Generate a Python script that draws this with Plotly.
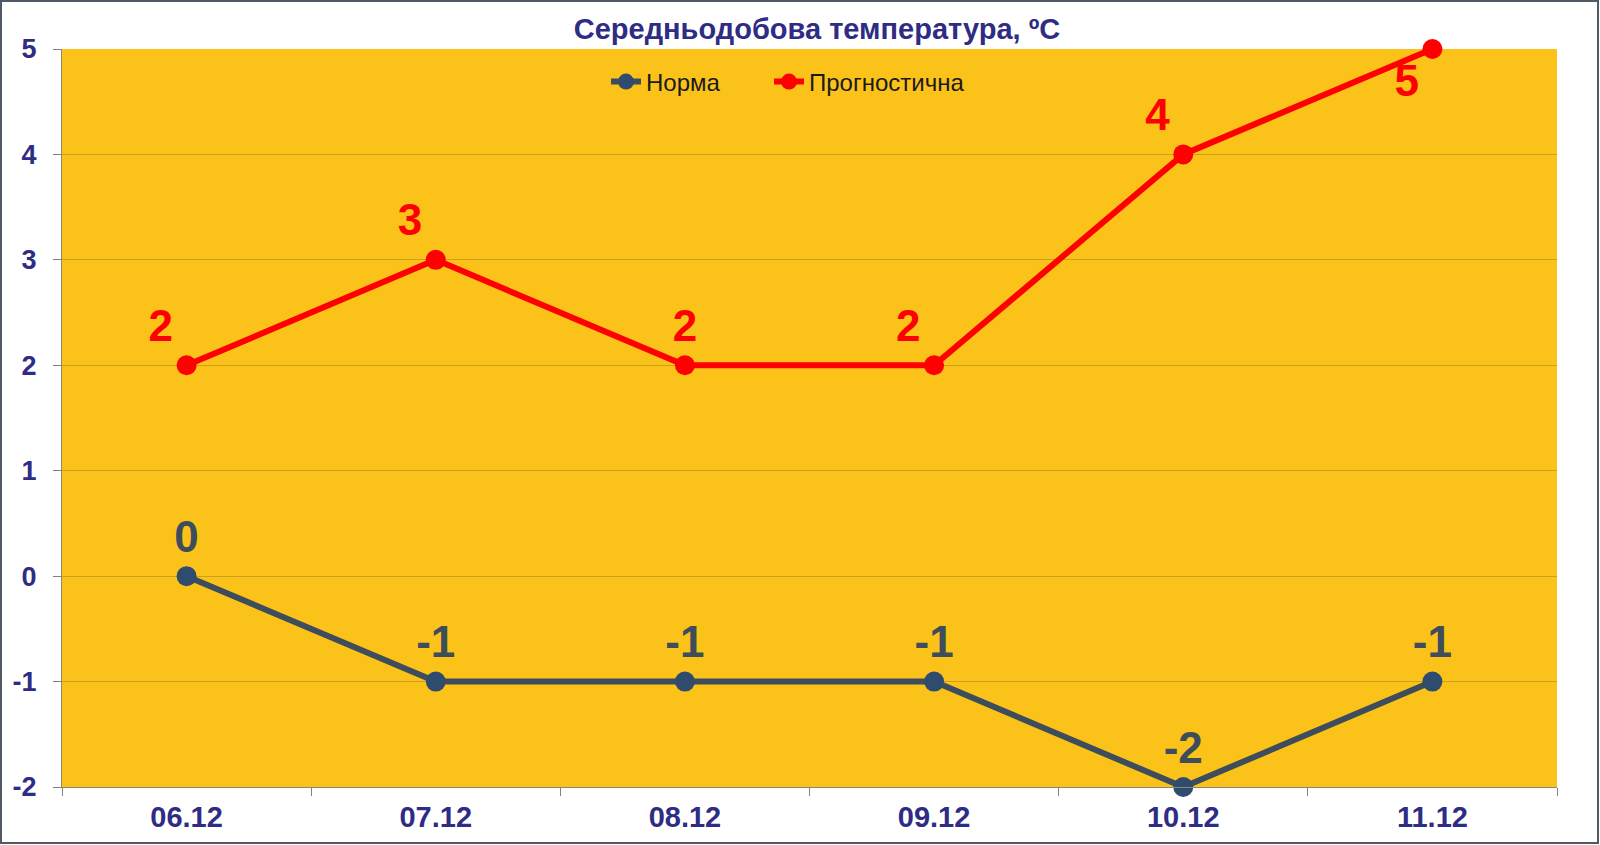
import plotly.graph_objects as go

categories = ["06.12", "07.12", "08.12", "09.12", "10.12", "11.12"]
norma = [0, -1, -1, -1, -2, -1]
prognoz = [2, 3, 2, 2, 4, 5]
y_ticks = [-2, -1, 0, 1, 2, 3, 4, 5]
y_ticktext = [str(v) for v in y_ticks]

prog_pos = ["top left", "top left", "top center", "top left", "top left", "bottom left"]
norm_pos = ["top center"] * 6

FONT = "Arial, Liberation Sans, sans-serif"
TICKC = "#2E2C84"
RED = "#FF0000"
GRAY_LINE = "#3E4D5B"
GRAY_MARK = "#2F4C6E"

fig = go.Figure()
fig.add_trace(go.Scatter(
    x=categories, y=norma, name="Норма", mode="lines+markers+text",
    text=[str(v) for v in norma], textposition=norm_pos,
    textfont=dict(family=FONT, size=44, color=GRAY_LINE, weight="bold"),
    line=dict(color=GRAY_LINE, width=6),
    marker=dict(color=GRAY_MARK, size=20),
    cliponaxis=False, legend="legend",
))
fig.add_trace(go.Scatter(
    x=categories, y=prognoz, name="Прогностична", mode="lines+markers+text",
    text=[str(v) for v in prognoz], textposition=prog_pos,
    textfont=dict(family=FONT, size=44, color=RED, weight="bold"),
    line=dict(color=RED, width=6),
    marker=dict(color=RED, size=20),
    cliponaxis=False, legend="legend2",
))

L, R, T, B = 62, 43, 49, 58
W, H = 1600, 845
pw, ph = W - L - R, H - T - B

leg_common = dict(orientation="h", xanchor="left", yanchor="middle",
                  y=(H - B - 82) / ph, bgcolor="rgba(0,0,0,0)",
                  font=dict(family=FONT, size=24, color="#1A1A1A"))

fig.update_layout(
    width=W, height=H,
    margin=dict(l=L, r=R, t=T, b=B, autoexpand=False),
    paper_bgcolor="white",
    plot_bgcolor="#FBC21A",
    title=dict(text="<b>Середньодобова температура, ºC</b>", x=817 / W, xanchor="center",
               y=1 - 28.6 / H, yanchor="middle",
               font=dict(family=FONT, size=29, color=TICKC)),
    legend=dict(x=(606 - L) / pw, **leg_common),
    legend2=dict(x=(769 - L) / pw, **leg_common),
    shapes=[dict(type="rect", xref="paper", yref="paper",
                 x0=(1 - L) / pw, x1=(W - 2 - L) / pw,
                 y0=(H - B - (H - 2)) / ph, y1=(H - B - 1) / ph,
                 line=dict(color="#505A64", width=2), fillcolor="rgba(0,0,0,0)",
                 layer="below")],
    showlegend=True,
)
fig.update_xaxes(type="category", range=[-0.5, 5.5], tickson="boundaries",
                 ticks="outside", ticklen=8, tickcolor="#808080",
                 showline=True, linecolor="#8A8A70", linewidth=1,
                 showgrid=False, ticklabelstandoff=4, automargin=False,
                 tickfont=dict(family=FONT, size=29, color=TICKC, weight="bold"))
fig.update_yaxes(range=[-2, 5], tickvals=y_ticks, ticktext=y_ticktext,
                 ticks="outside", ticklen=8, tickcolor="#808080",
                 showline=True, linecolor="#8A8A70", linewidth=1,
                 showgrid=True, gridcolor="#C9A020", gridwidth=1, zeroline=False,
                 ticklabelstandoff=11, automargin=False,
                 tickfont=dict(family=FONT, size=27, color=TICKC, weight="bold"))

fig.write_html("out.html", config={"displayModeBar": False},
               post_script="document.body.style.margin='0';document.body.style.overflow='hidden';")
